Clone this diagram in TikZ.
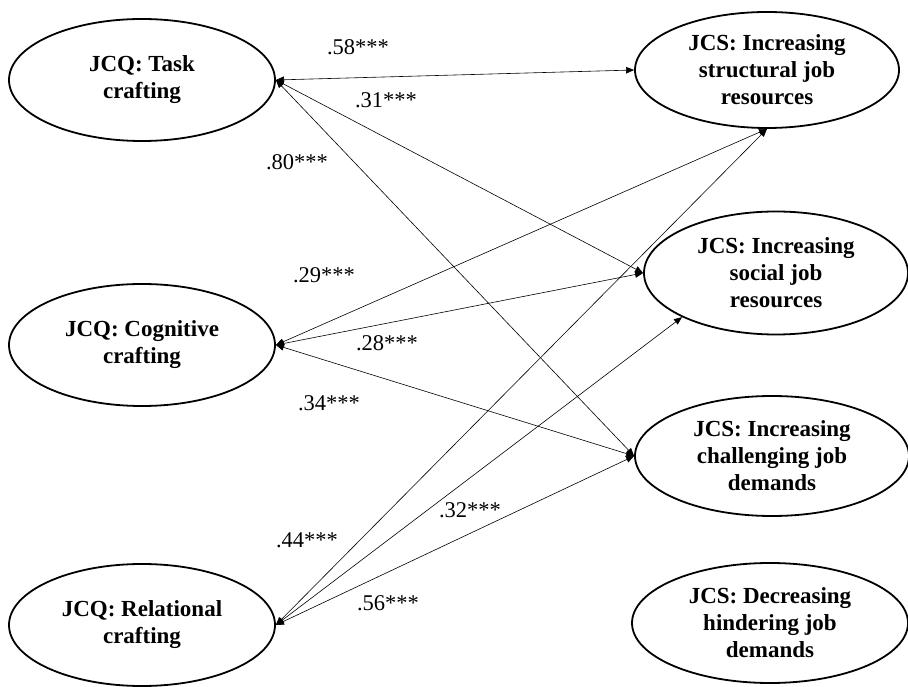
\documentclass[tikz,border=0pt]{standalone}
\usepackage{fontspec}
\setmainfont{Liberation Serif}
\usepackage{tikz}
\usetikzlibrary{shapes.geometric,arrows.meta}
\definecolor{ink}{RGB}{0,0,0}

\begin{document}
\begin{tikzpicture}[
  x=1pt, y=1pt,
  font=\fontsize{22.5}{27}\selectfont,
  >={Triangle[length=8pt,width=6.5pt]},
  factor/.style={ellipse, draw=ink, line width=1.8pt, align=center, inner sep=0pt, font=\fontsize{23}{27}\selectfont\bfseries},
  corr/.style={<->, draw=ink, line width=0.6pt},
  coef/.style={text=ink, inner sep=0pt},
]
\useasboundingbox (0,0) rectangle (908,686);

% ---- JCQ factors (left) ----
\node[factor, minimum width=266pt, minimum height=122pt] (TASK) at (142,606) {JCQ: Task\\crafting};
\node[factor, minimum width=266pt, minimum height=122pt] (COG) at (142,341) {JCQ: Cognitive\\crafting};
\node[factor, minimum width=266pt, minimum height=122pt] (REL) at (142,61) {JCQ: Relational\\crafting};

% ---- JCS factors (right) ----
\node[factor, minimum width=264pt, minimum height=116pt] (STRUC) at (767,616) {JCS: Increasing\\structural job\\resources};
\node[factor, minimum width=264pt, minimum height=123pt] (SOC) at (776,413) {JCS: Increasing\\social job\\resources};
\node[factor, minimum width=274pt, minimum height=120pt] (CHAL) at (772,230) {JCS: Increasing\\challenging job\\demands};
\node[factor, minimum width=276pt, minimum height=120pt] (HIND) at (770,63) {JCS: Decreasing\\hindering job\\demands};

% ---- correlations ----
\draw[corr] (TASK.east) -- (STRUC.west);
\draw[corr] (TASK.east) -- (SOC.west);
\draw[corr] (TASK.east) -- (CHAL.west);
\draw[corr] (COG.east) -- (STRUC.south);
\draw[corr] (COG.east) -- (SOC.west);
\draw[corr] (COG.east) -- (CHAL.west);
\draw[corr] (REL.east) -- (STRUC.south);
\draw[corr] (REL.east) -- (SOC.south west);
\draw[corr] (REL.east) -- (CHAL.west);

% ---- coefficients ----
\node[coef] (c58) at (358,639) {.58***};
\node[coef] (c31) at (386,586) {.31***};
\node[coef] (c80) at (297,524) {.80***};
\node[coef] (c29) at (324,411) {.29***};
\node[coef] (c28) at (387,343) {.28***};
\node[coef] (c34) at (329,283) {.34***};
\node[coef] (c44) at (307,146) {.44***};
\node[coef] (c32) at (470,176) {.32***};
\node[coef] (c56) at (388,83) {.56***};

\end{tikzpicture}
\end{document}
